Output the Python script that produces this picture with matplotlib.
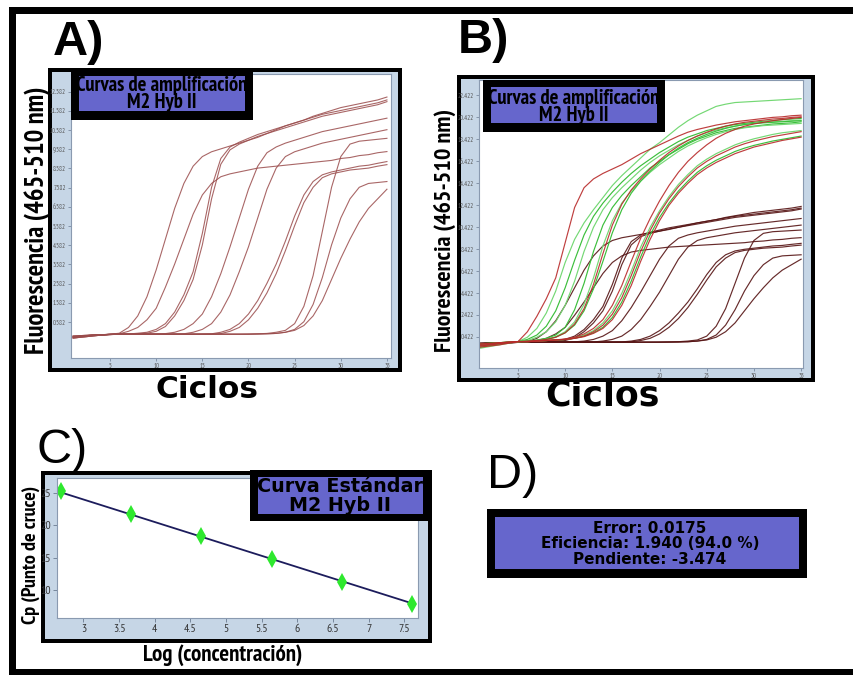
import numpy as np
import matplotlib
matplotlib.use("Agg")
import matplotlib.pyplot as plt
from matplotlib.patches import Rectangle

# ---- amplification data (fluorescence per cycle) ----
cycles = np.arange(1, 36)

# M2 Hyb II dilution series, panel A (and dark group in panel B)
amp_a = [
    [-0.25, -0.2, -0.15, -0.1, -0.05, 0.0, 0.3, 0.9, 1.9, 3.3, 4.9, 6.5, 7.8, 8.7, 9.2, 9.45, 9.6, 9.75, 9.9, 10.05,
     10.2, 10.4, 10.6, 10.8, 10.95, 11.1, 11.3, 11.45, 11.6, 11.75, 11.85, 11.95, 12.05, 12.15, 12.3],
    [-0.2, -0.15, -0.1, -0.08, -0.05, -0.03, 0.1, 0.3, 0.7, 1.3, 2.4, 3.6, 4.9, 6.2, 7.2, 7.8, 8.15, 8.3, 8.4, 8.5,
     8.6, 8.65, 8.7, 8.75, 8.8, 8.85, 8.9, 8.95, 9.0, 9.1, 9.15, 9.25, 9.3, 9.4, 9.46],
    [-0.15, -0.12, -0.1, -0.08, -0.06, -0.05, -0.04, 0.0, 0.05, 0.2, 0.5, 1.1, 2.0, 3.2, 5.2, 7.6, 9.1, 9.7, 9.95,
     10.15, 10.35, 10.5, 10.65, 10.8, 10.95, 11.1, 11.25, 11.4, 11.5, 11.6, 11.7, 11.8, 11.9, 12.0, 12.15],
    [-0.2, -0.15, -0.12, -0.1, -0.07, -0.05, -0.05, -0.03, 0.0, 0.1, 0.35, 0.9, 1.7, 2.8, 4.6, 7.0, 8.8, 9.55, 9.85,
     10.05, 10.25, 10.4, 10.55, 10.7, 10.85, 11.0, 11.15, 11.3, 11.4, 11.5, 11.6, 11.7, 11.8, 11.9, 12.06],
    [-0.2, -0.15, -0.1, -0.08, -0.06, -0.05, -0.05, -0.05, -0.05, -0.04, -0.02, 0.05, 0.2, 0.5, 1.0, 1.9, 3.1, 4.5,
     6.0, 7.5, 8.7, 9.4, 9.7, 9.9, 10.05, 10.2, 10.35, 10.5, 10.6, 10.7, 10.8, 10.9, 11.0, 11.1, 11.2],
    [-0.25, -0.2, -0.15, -0.1, -0.07, -0.05, -0.05, -0.05, -0.05, -0.05, -0.05, -0.04, -0.03, 0.05, 0.2, 0.5, 1.1,
     2.0, 3.2, 4.5, 6.0, 7.5, 8.6, 9.2, 9.45, 9.6, 9.75, 9.9, 10.0, 10.1, 10.2, 10.3, 10.4, 10.5, 10.6],
    [-0.15, -0.12, -0.1, -0.08, -0.06, -0.05, -0.05, -0.05, -0.05, -0.05, -0.05, -0.05, -0.05, -0.05, -0.04, -0.03,
     0.05, 0.2, 0.5, 1.0, 1.7, 2.6, 3.6, 4.8, 6.1, 7.2, 7.9, 8.25, 8.4, 8.5, 8.6, 8.7, 8.75, 8.85, 8.94],
    [-0.2, -0.15, -0.12, -0.1, -0.07, -0.05, -0.05, -0.05, -0.05, -0.05, -0.05, -0.05, -0.05, -0.05, -0.05, -0.04,
     -0.02, 0.1, 0.3, 0.7, 1.3, 2.1, 3.1, 4.3, 5.6, 6.8, 7.6, 8.1, 8.3, 8.4, 8.5, 8.55, 8.6, 8.7, 8.78],
    [-0.2, -0.15, -0.1, -0.08, -0.06, -0.05, -0.05, -0.05, -0.05, -0.05, -0.05, -0.05, -0.05, -0.05, -0.05, -0.05,
     -0.05, -0.05, -0.05, -0.04, -0.03, -0.01, 0.05, 0.15, 0.5, 1.4, 3.0, 5.3, 7.6, 9.2, 9.85, 10.0, 10.05, 10.1, 10.15],
    [-0.15, -0.12, -0.1, -0.08, -0.06, -0.05, -0.05, -0.05, -0.05, -0.05, -0.05, -0.05, -0.05, -0.05, -0.05, -0.05,
     -0.05, -0.05, -0.05, -0.05, -0.04, -0.03, -0.01, 0.05, 0.2, 0.6, 1.5, 2.9, 4.6, 6.0, 7.0, 7.6, 7.8, 7.85, 7.9],
    [-0.25, -0.2, -0.15, -0.1, -0.07, -0.05, -0.05, -0.05, -0.05, -0.05, -0.05, -0.05, -0.05, -0.05, -0.05, -0.05,
     -0.05, -0.05, -0.05, -0.05, -0.04, -0.03, -0.01, 0.05, 0.15, 0.4, 0.9, 1.7, 2.8, 3.9, 4.9, 5.8, 6.5, 7.0, 7.5],
]

# panel B, high-signal runs (green = replicate set, red = second set)
amp_b_green = [
    [-0.6, -0.45, -0.3, -0.15, 0.0, 0.4, 1.2, 2.6, 4.6, 7.2, 9.3, 10.8, 12.0, 13.1, 14.2, 15.1, 15.9, 16.7, 17.5,
     18.1, 18.8, 19.5, 20.1, 20.6, 21.0, 21.4, 21.6, 21.75, 21.8, 21.85, 21.9, 21.95, 22.0, 22.05, 22.1],
    [-0.4, -0.3, -0.2, -0.1, 0.0, 0.2, 0.6, 1.4, 2.8, 4.9, 7.4, 9.7, 11.4, 12.6, 13.6, 14.5, 15.3, 16.0, 16.6, 17.2,
     17.7, 18.2, 18.6, 18.9, 19.2, 19.4, 19.6, 19.75, 19.85, 19.95, 20.05, 20.1, 20.2, 20.25, 20.3],
    [-0.3, -0.25, -0.15, -0.1, 0.0, 0.1, 0.4, 0.9, 1.8, 3.3, 5.5, 8.2, 10.4, 12.0, 13.1, 14.0, 14.8, 15.6, 16.3,
     16.9, 17.4, 17.9, 18.3, 18.7, 19.0, 19.25, 19.45, 19.6, 19.75, 19.85, 19.95, 20.0, 20.05, 20.1, 20.15],
    [-0.2, -0.15, -0.1, -0.05, 0.0, 0.05, 0.15, 0.3, 0.6, 1.3, 2.9, 5.3, 8.2, 10.6, 12.2, 13.3, 14.2, 15.0, 15.8,
     16.4, 17.0, 17.5, 18.0, 18.4, 18.7, 19.0, 19.2, 19.4, 19.5, 19.6, 19.7, 19.8, 19.85, 19.9, 20.0],
    [-0.3, -0.2, -0.15, -0.05, 0.0, 0.05, 0.1, 0.2, 0.45, 0.9, 1.8, 3.4, 5.8, 8.7, 11.0, 12.6, 13.7, 14.6, 15.4,
     16.1, 16.7, 17.3, 17.8, 18.2, 18.55, 18.85, 19.1, 19.3, 19.45, 19.55, 19.65, 19.7, 19.75, 19.8, 19.85],
    [-0.5, -0.35, -0.2, -0.1, 0.0, 0.05, 0.1, 0.2, 0.4, 0.8, 1.5, 2.8, 4.8, 7.3, 9.9, 12.0, 13.5, 14.6, 15.5, 16.3,
     17.0, 17.6, 18.1, 18.5, 18.85, 19.15, 19.4, 19.6, 19.75, 19.85, 19.9, 19.95, 20.0, 20.05, 20.1],
    [-0.3, -0.2, -0.1, -0.05, 0.0, 0.0, 0.05, 0.1, 0.15, 0.2, 0.35, 0.6, 1.0, 1.7, 2.8, 4.4, 6.4, 8.6, 10.4, 11.9,
     13.2, 14.3, 15.2, 16.0, 16.6, 17.1, 17.5, 17.9, 18.2, 18.45, 18.65, 18.85, 19.0, 19.1, 19.2],
    [-0.2, -0.15, -0.1, -0.05, 0.0, 0.0, 0.05, 0.1, 0.15, 0.2, 0.3, 0.5, 0.8, 1.3, 2.2, 3.6, 5.5, 7.7, 9.7, 11.3,
     12.6, 13.7, 14.6, 15.4, 16.0, 16.5, 16.9, 17.3, 17.6, 17.85, 18.05, 18.25, 18.4, 18.55, 18.7],
]
amp_b_red = [
    [-0.5, -0.4, -0.3, -0.15, 0.0, 0.9, 2.3, 3.9, 5.8, 9.0, 12.2, 14.0, 14.8, 15.3, 15.7, 16.1, 16.6, 17.1, 17.5,
     17.9, 18.3, 18.7, 19.05, 19.3, 19.5, 19.7, 19.85, 20.0, 20.1, 20.2, 20.3, 20.4, 20.45, 20.55, 20.6],
    [-0.4, -0.3, -0.2, -0.1, 0.0, 0.05, 0.1, 0.2, 0.4, 0.8, 1.6, 3.0, 5.2, 8.0, 10.6, 12.5, 13.8, 14.8, 15.7, 16.5,
     17.2, 17.8, 18.3, 18.7, 19.05, 19.35, 19.6, 19.8, 19.95, 20.05, 20.15, 20.25, 20.3, 20.4, 20.45],
    [-0.2, -0.15, -0.1, -0.05, 0.0, 0.0, 0.05, 0.1, 0.15, 0.25, 0.4, 0.7, 1.2, 2.0, 3.3, 5.1, 7.3, 9.4, 11.2, 12.8,
     14.2, 15.4, 16.4, 17.2, 17.9, 18.5, 18.95, 19.3, 19.6, 19.8, 19.95, 20.1, 20.2, 20.3, 20.4],
    [-0.35, -0.25, -0.15, -0.05, 0.0, 0.0, 0.05, 0.1, 0.15, 0.2, 0.3, 0.5, 0.9, 1.5, 2.5, 4.0, 6.0, 8.2, 10.1, 11.7,
     13.0, 14.1, 15.0, 15.8, 16.4, 16.9, 17.3, 17.7, 18.0, 18.25, 18.45, 18.65, 18.8, 18.95, 19.1],
    [-0.25, -0.2, -0.1, -0.05, 0.0, 0.0, 0.05, 0.1, 0.15, 0.2, 0.3, 0.45, 0.75, 1.2, 2.0, 3.3, 5.1, 7.3, 9.3, 11.0,
     12.4, 13.5, 14.4, 15.2, 15.8, 16.3, 16.7, 17.1, 17.4, 17.7, 17.9, 18.1, 18.3, 18.45, 18.6],
]

# standard curve
log_conc = [2.69, 3.67, 4.65, 5.64, 6.62, 7.60]
cp_values = [25.2, 21.7, 18.3, 14.8, 11.2, 7.8]
slope = -3.474
error = 0.0175
efficiency = 1.940

yticks_a = [0.582 + k for k in range(13)]
yticks_b = [0.422 + 2 * k for k in range(12)]
xticks_cyc = [5, 10, 15, 20, 25, 30, 35]
xticks_c = [3, 3.5, 4, 4.5, 5, 5.5, 6, 6.5, 7, 7.5]
yticks_c = [10, 15, 20, 25]

# ---- styling ----
W, H = 854, 675
NARROW = ["PT Sans Narrow", "Roboto Condensed", "Asap Condensed", "DejaVu Sans"]
ARIAL = ["Liberation Sans", "Arimo", "DejaVu Sans"]
WIDE = ["DejaVu Sans"]
FRAME_BG = "#c6d6e6"
PURPLE = "#6666cc"

fig = plt.figure(figsize=(W / 100, H / 100), dpi=100)


def frac(x0, y0, x1, y1):
    # pixel box (top-left origin) -> figure fraction rect
    return [x0 / W, 1 - y1 / H, (x1 - x0) / W, (y1 - y0) / H]


def box(x0, y0, x1, y1, color, z):
    l, b, w, h = frac(x0, y0, x1, y1)
    r = Rectangle((l, b), w, h, transform=fig.transFigure, facecolor=color,
                  edgecolor="none", zorder=z)
    fig.add_artist(r)
    return r


def text(x, y, s, **kw):
    return fig.text(x / W, 1 - y / H, s, **kw)


def framed_axes(outer, inner):
    box(*outer, "black", 0.1)
    x0, y0, x1, y1 = outer
    box(x0 + 4, y0 + 4, x1 - 4, y1 - 4, FRAME_BG, 0.2)
    ax = fig.add_axes(frac(*inner))
    ax.set_zorder(1)
    ax.set_facecolor("white")
    for s in ax.spines.values():
        s.set_color("#8a9ab0")
        s.set_linewidth(0.8)
    return ax


def title_box(outer, inner, label, family, size, cy, spacing):
    box(*outer, "black", 2)
    purple = box(*inner, PURPLE, 2.1)
    cx = (inner[0] + inner[2]) / 2
    t = text(cx, cy, label, ha="center", va="center", ma="center", fontsize=size,
             fontweight="bold", family=family, color="black", zorder=4,
             linespacing=spacing)
    t.set_clip_path(purple)


def cycle_ticks(ax, yticks, xlim, ylim):
    ax.set_xlim(*xlim)
    ax.set_ylim(*ylim)
    ax.set_xticks(xticks_cyc)
    ax.set_yticks(yticks)
    ax.set_yticklabels(["%.3f" % v for v in yticks])
    ax.tick_params(length=2.5, width=0.5, color="#6a7a90", labelsize=4.8,
                   labelcolor="#555555", pad=1.2)
    for lbl in ax.get_xticklabels() + ax.get_yticklabels():
        lbl.set_family(NARROW)


# ---- panel A ----
ax_a = framed_axes((48, 68, 402, 372), (71, 74, 391, 358))
for curve in amp_a:
    ax_a.plot(cycles, curve, color="#9a4c4c", lw=0.8, alpha=0.85)
cycle_ticks(ax_a, yticks_a, (0.77, 35.44), (-1.29, 13.5))
title_box((71, 70, 253, 120), (79, 76, 245, 111),
          "Curvas de amplificación\nM2 Hyb II", NARROW, 14.8, 94, 0.85)
text(53, 55, "A)", fontsize=35, fontweight="bold", family=ARIAL, va="baseline")
text(37, 220, "Fluorescencia (465-510 nm)", rotation=90, ha="center", va="center",
     fontsize=19.2, fontweight="bold", family=NARROW)
text(207, 398, "Ciclos", ha="center", va="baseline", fontsize=22.5,
     fontweight="bold", family=WIDE)

# ---- panel B ----
ax_b = framed_axes((457, 75, 815, 382), (479, 80, 803, 368))
for curve in amp_a:
    ax_b.plot(cycles, curve, color="#561414", lw=0.85, alpha=0.9)
for i, curve in enumerate(amp_b_green):
    ax_b.plot(cycles, curve, color="#3cbf3c" if i % 2 else "#74d874", lw=0.85)
for curve in amp_b_red:
    ax_b.plot(cycles, curve, color="#b82a2a", lw=0.85, alpha=0.9)
cycle_ticks(ax_b, yticks_b, (0.87, 35.2), (-2.4, 23.8))
title_box((483, 80, 665, 132), (491, 87, 657, 123),
          "Curvas de amplificación\nM2 Hyb II", NARROW, 14.8, 107, 0.85)
text(458, 53, "B)", fontsize=35, fontweight="bold", family=ARIAL, va="baseline")
text(445, 230, "Fluorescencia (465-510 nm)", rotation=90, ha="center", va="center",
     fontsize=17.4, fontweight="bold", family=NARROW)
text(602, 406, "Ciclos", ha="center", va="baseline", fontsize=25,
     fontweight="bold", family=WIDE)

# ---- panel C: standard curve ----
ax_c = framed_axes((41, 471, 432, 643), (57, 478, 418, 618))
x = np.array(log_conc)
intercept = np.mean(cp_values) - slope * np.mean(x)
ax_c.plot(x, intercept + slope * x, color="#1c1c5c", lw=1.3)
ax_c.plot(x, cp_values, ls="none", marker="d", ms=9, color="#2ee82e",
          markeredgewidth=0)
ax_c.set_xlim(2.63, 7.69)
ax_c.set_ylim(5.69, 27.26)
ax_c.set_xticks(xticks_c)
ax_c.set_xticklabels(["%g" % v for v in xticks_c])
ax_c.set_yticks(yticks_c)
ax_c.tick_params(length=3, width=0.6, color="#6a7a90", labelsize=8.5,
                 labelcolor="#333333", pad=1.5)
for lbl in ax_c.get_xticklabels() + ax_c.get_yticklabels():
    lbl.set_family(NARROW)
title_box((250, 470, 432, 521), (258, 477, 423, 514),
          "Curva Estándar\nM2 Hyb II", WIDE, 13.8, 496, 0.95)
text(37, 463, "C)", fontsize=35, family=ARIAL, va="baseline")
text(31, 555, "Cp (Punto de cruce)", rotation=90, ha="center", va="center",
     fontsize=14.5, fontweight="bold", family=NARROW)
text(223, 655, "Log (concentración)", ha="center", va="center",
     fontsize=16.5, fontweight="bold", family=NARROW)

# ---- panel D: run statistics ----
text(487, 488, "D)", fontsize=35, family=ARIAL, va="baseline")
box(487, 509, 807, 578, "black", 2)
box(495, 517, 799, 569, PURPLE, 2.1)
stats = ["Error: %.4f" % error,
         "Eficiencia: %.3f (%.1f %%)" % (efficiency, (efficiency - 1) * 100),
         "Pendiente: %.3f" % slope]
text(650, 544, "\n".join(stats), ha="center", va="center", ma="center",
     fontsize=11, fontweight="bold", family=WIDE, zorder=4, linespacing=1.08)

# ---- outer border ----
box(9, 7, W, 14, "black", 5)
box(9, 7, 16, H, "black", 5)
box(9, 669, W, H, "black", 5)

fig.savefig("out.png", dpi=100)
